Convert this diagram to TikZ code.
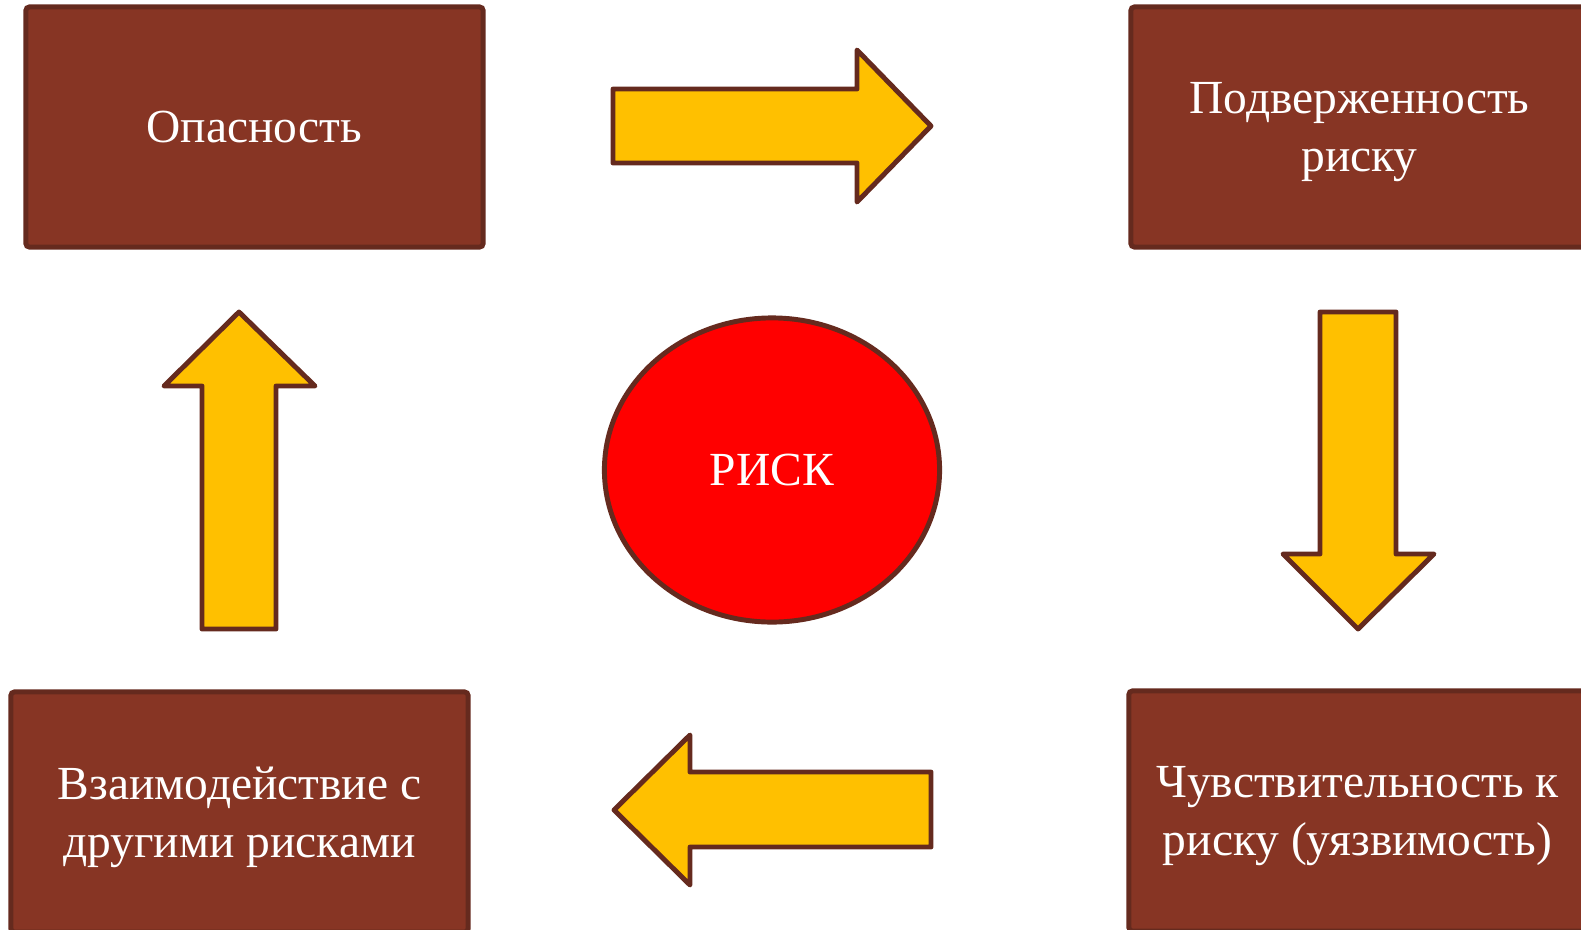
\documentclass[tikz,border=0pt]{standalone}
\usepackage{fontspec}
\setmainfont{Liberation Serif}
\usetikzlibrary{shapes.geometric}

\definecolor{boxfill}{HTML}{873524}
\definecolor{edge}{HTML}{652A1E}
\definecolor{arrowfill}{HTML}{FFC000}
\definecolor{riskred}{HTML}{FF0000}

\begin{document}
\begin{tikzpicture}[
    x=0.01cm, y=-0.01cm,
    factor/.style={rectangle,draw=edge,fill=boxfill,line width=1.4pt,rounded corners=1pt,
      minimum width=4.57cm,minimum height=2.40cm,align=center,text depth=0pt,
      text=white,font=\fontsize{13.5}{16.6}\selectfont},
    risk/.style={ellipse,draw=edge,fill=riskred,line width=1.4pt,inner sep=0pt,
      minimum width=3.35cm,minimum height=3.04cm,text=white,font=\fontsize{13.5}{16.6}\selectfont},
    blockarrow/.style={draw=edge,fill=arrowfill,line width=1.4pt,line join=round}
    ]

    \useasboundingbox (0,0) rectangle (1581,930);
    \clip (0,0) rectangle (1581,930);

    % factors:
    \node (hazard) at (254.5,127) [factor] {Опасность};
    \node (exposure) at (1359.5,127) [factor] {Подверженность\\риску};
    \node (vulner) at (1357.5,811) [factor] {Чувствительность к\\риску (уязвимость)};
    \node (interact) at (239.5,812) [factor] {Взаимодействие с\\другими рисками};

    % centre:
    \node (risk) at (772,470) [risk] {РИСК};

    % block arrows:
    \draw[blockarrow] (613,89) -- (857,89) -- (857,50) -- (931,126) -- (857,202) -- (857,163) -- (613,163) -- cycle;
    \draw[blockarrow] (1320,312) -- (1396,312) -- (1396,554) -- (1434,554) -- (1358,629) -- (1283,554) -- (1320,554) -- cycle;
    \draw[blockarrow] (931,772) -- (690,772) -- (690,735) -- (614,810) -- (690,885) -- (690,847) -- (931,847) -- cycle;
    \draw[blockarrow] (202,629) -- (202,386) -- (164,386) -- (239,312) -- (315,386) -- (276,386) -- (276,629) -- cycle;

\end{tikzpicture}
\end{document}
